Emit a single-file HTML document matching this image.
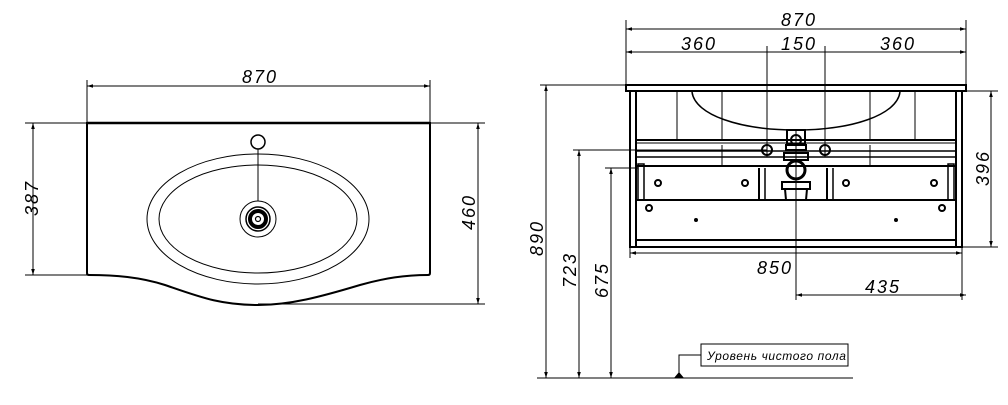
<!DOCTYPE html>
<html><head><meta charset="utf-8"><style>
html,body{margin:0;padding:0;background:#fff;}
svg text{font-family:"Liberation Sans","DejaVu Sans",sans-serif;font-style:italic;fill:#000;}
</style></head><body>
<svg width="1008" height="400" viewBox="0 0 1008 400" xmlns="http://www.w3.org/2000/svg">
<defs>
<marker id="a" viewBox="0 0 10 10" refX="10" refY="5" markerWidth="10" markerHeight="6" orient="auto-start-reverse" markerUnits="userSpaceOnUse">
<path d="M0,2 L10,5 L0,8 Z" fill="#000"/></marker>
</defs>
<g stroke="#000" fill="none">
<path d="M87,123 H430 V273 Q430,275 428,275 C405,275 385,278 360,285 C320,297 290,305 258,305 C220,305 200,297 165,285 C140,277 115,275 89,275 Q87,275 87,273 Z" stroke-width="2"/>
<line x1="87" y1="123" x2="430" y2="123" stroke-width="2.5"/>
<circle cx="258" cy="142" r="7" stroke-width="1.5"/>
<ellipse cx="258" cy="219" rx="111" ry="65" stroke-width="1"/>
<ellipse cx="258" cy="219" rx="99" ry="54" stroke-width="1"/>
<line x1="258" y1="149" x2="258" y2="201" stroke-width="1"/>
<circle cx="258" cy="219" r="18" stroke-width="1"/>
<circle cx="258" cy="219" r="12" stroke-width="1.5"/>
<circle cx="258" cy="219" r="8" stroke-width="4"/>
<circle cx="258" cy="219" r="2.5" stroke-width="1.2"/>
<g stroke-width="1">
<line x1="87" y1="80" x2="87" y2="123"/><line x1="430" y1="80" x2="430" y2="123"/>
<line x1="87" y1="86" x2="430" y2="86" marker-start="url(#a)" marker-end="url(#a)"/>
<line x1="25" y1="123" x2="87" y2="123"/><line x1="25" y1="275" x2="87" y2="275"/>
<line x1="33" y1="123" x2="33" y2="275" marker-start="url(#a)" marker-end="url(#a)"/>
<line x1="430" y1="123" x2="485" y2="123"/><line x1="258" y1="304" x2="485" y2="304"/>
<line x1="478" y1="123" x2="478" y2="304" marker-start="url(#a)" marker-end="url(#a)"/>
</g>
<rect x="626" y="85" width="340" height="6" stroke-width="2"/>
<rect x="630" y="91" width="332" height="156" stroke-width="2"/>
<line x1="636" y1="91" x2="636" y2="247" stroke-width="2"/>
<line x1="956" y1="91" x2="956" y2="247" stroke-width="2"/>
<line x1="636" y1="240" x2="956" y2="240" stroke-width="2"/>
<path d="M692,92 C695,115 740,130 796,130 C852,130 897,115 900,92" stroke-width="1.5"/>
<g stroke-width="1">
<line x1="677" y1="92" x2="677" y2="139"/><line x1="722" y1="92" x2="722" y2="139"/>
<line x1="870" y1="92" x2="870" y2="139"/><line x1="915" y1="92" x2="915" y2="139"/>
<line x1="722" y1="145" x2="722" y2="165"/><line x1="870" y1="145" x2="870" y2="165"/>
</g>
<line x1="636" y1="140" x2="956" y2="140" stroke-width="2"/>
<line x1="636" y1="143" x2="956" y2="143" stroke-width="1"/>
<line x1="636" y1="151" x2="956" y2="151" stroke-width="1.5"/>
<line x1="636" y1="157" x2="956" y2="157" stroke-width="1.5"/>
<line x1="636" y1="166" x2="956" y2="166" stroke-width="2"/>
<line x1="636" y1="200" x2="956" y2="200" stroke-width="2"/>
<rect x="638" y="164" width="6" height="36" stroke-width="1.5"/>
<rect x="948" y="164" width="6" height="36" stroke-width="1.5"/>
<line x1="759" y1="168" x2="759" y2="200" stroke-width="2"/>
<line x1="765" y1="168" x2="765" y2="200" stroke-width="1.5"/>
<line x1="827" y1="168" x2="827" y2="200" stroke-width="2"/>
<line x1="833" y1="168" x2="833" y2="200" stroke-width="1.5"/>
<g stroke-width="2">
<circle cx="658" cy="183" r="3"/><circle cx="745" cy="183" r="3"/>
<circle cx="846" cy="183" r="3"/><circle cx="934" cy="183" r="3"/>
<circle cx="649" cy="208" r="3"/><circle cx="942" cy="208" r="3"/>
</g>
<circle cx="696" cy="220" r="1.5" fill="#000"/><circle cx="896" cy="220" r="1.5" fill="#000"/>
<rect x="787" y="130" width="18" height="14" stroke-width="2"/>
<circle cx="796" cy="140" r="5" stroke-width="2"/>
<rect x="786" y="145" width="20" height="5" stroke-width="2"/>
<rect x="784" y="153" width="24" height="7" stroke-width="2"/>
<circle cx="796" cy="170" r="9" stroke-width="3"/>
<rect x="782" y="182" width="28" height="7" stroke-width="2"/>
<path d="M785,189 L786,200 M807,189 L806,200" stroke-width="2"/>
<circle cx="767" cy="150" r="5" stroke-width="2"/>
<circle cx="825" cy="150" r="5" stroke-width="2"/>
<g stroke-width="1">
<line x1="626" y1="20" x2="626" y2="85"/><line x1="966" y1="20" x2="966" y2="85"/>
<line x1="626" y1="29" x2="966" y2="29" marker-start="url(#a)" marker-end="url(#a)"/>
<line x1="626" y1="52" x2="966" y2="52" marker-start="url(#a)" marker-end="url(#a)"/>
<line x1="767" y1="46" x2="767" y2="157"/><line x1="825" y1="46" x2="825" y2="157"/>
<line x1="796" y1="130" x2="796" y2="300"/>
<line x1="962" y1="91" x2="998" y2="91"/><line x1="962" y1="247" x2="998" y2="247"/>
<line x1="991" y1="91" x2="991" y2="247" marker-start="url(#a)" marker-end="url(#a)"/>
<line x1="630" y1="247" x2="630" y2="258"/><line x1="962" y1="247" x2="962" y2="300"/>
<line x1="630" y1="253" x2="962" y2="253" marker-start="url(#a)" marker-end="url(#a)"/>
<line x1="796" y1="295" x2="966" y2="295" marker-start="url(#a)" marker-end="url(#a)"/>
<line x1="540" y1="85" x2="626" y2="85"/>
<line x1="546" y1="85" x2="546" y2="378" marker-start="url(#a)" marker-end="url(#a)"/>
<line x1="573" y1="150" x2="767" y2="150"/>
<line x1="579" y1="150" x2="579" y2="378" marker-start="url(#a)" marker-end="url(#a)"/>
<line x1="605" y1="168" x2="638" y2="168"/>
<line x1="611" y1="168" x2="611" y2="378" marker-start="url(#a)" marker-end="url(#a)"/>
<line x1="537" y1="378" x2="853" y2="378"/>
<path d="M679,376 V355 H701"/>
<rect x="701" y="344" width="147" height="22"/>
</g>
<path d="M674,378 L679,372 L684,378 Z" fill="#000" stroke="none"/>
</g>
<g font-size="18" letter-spacing="2">
<text x="260" y="83" text-anchor="middle">870</text>
<text transform="translate(38,198) rotate(-90)" text-anchor="middle">387</text>
<text transform="translate(475,212) rotate(-90)" text-anchor="middle">460</text>
<text x="799" y="26" text-anchor="middle">870</text>
<text x="699" y="50" text-anchor="middle">360</text>
<text x="799" y="50" text-anchor="middle">150</text>
<text x="898" y="50" text-anchor="middle">360</text>
<text transform="translate(989,168) rotate(-90)" text-anchor="middle">396</text>
<text x="775" y="274" text-anchor="middle">850</text>
<text x="883" y="293" text-anchor="middle">435</text>
<text transform="translate(543,238) rotate(-90)" text-anchor="middle">890</text>
<text transform="translate(576,270) rotate(-90)" text-anchor="middle">723</text>
<text transform="translate(608,280) rotate(-90)" text-anchor="middle">675</text>
</g>
<text x="707" y="360" font-size="12" letter-spacing="0.6">Уровень  чистого  пола</text>
</svg>
</body></html>
